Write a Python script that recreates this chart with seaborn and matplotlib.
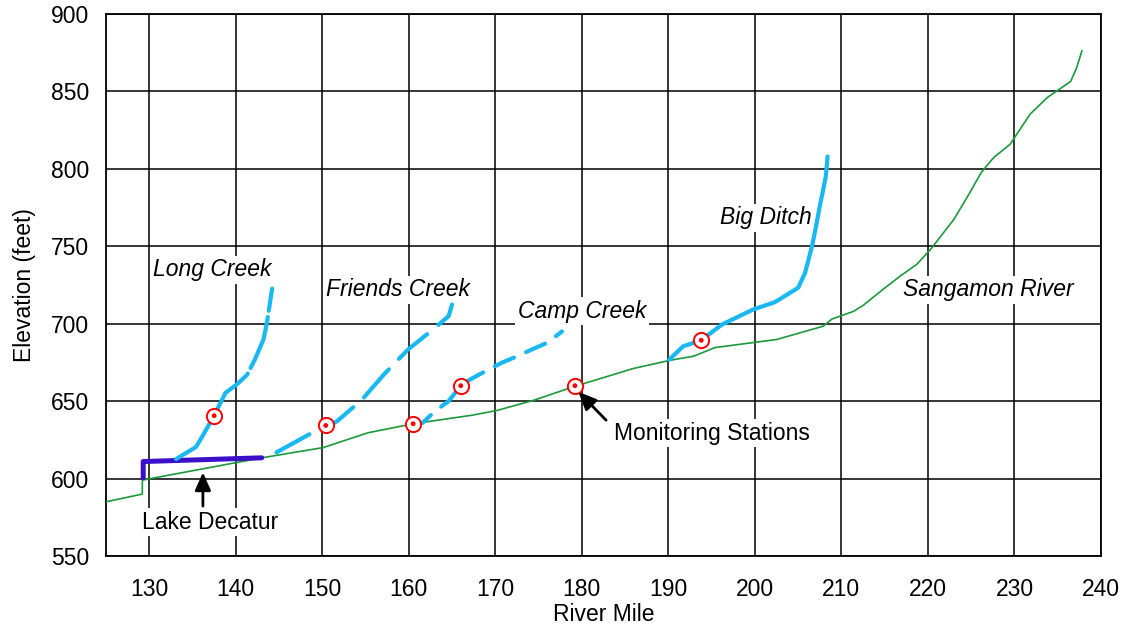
import matplotlib
matplotlib.use("Agg")
import matplotlib.pyplot as plt
import seaborn as sns
import pandas as pd

sns.set_theme(style="white")
plt.rcParams['font.family'] = ['Liberation Sans', 'DejaVu Sans']
plt.rcParams['text.color'] = 'black'
plt.rcParams['axes.labelcolor'] = 'black'

# Sangamon River main stem
sang_x = [125.0, 129.2, 129.2, 143.0, 150.1, 155.3, 160.5, 167.4, 170.2, 174.4, 179.2, 185.9,
          190.2, 192.9, 195.4, 202.5, 207.9, 208.9, 211.4, 212.5, 214.9, 216.8, 218.7, 220.3,
          223.0, 224.5, 226.2, 227.6, 229.5, 231.8, 233.8, 236.5, 237.2, 237.8]
sang_y = [585.0, 590.0, 599.0, 613.4, 620.0, 629.6, 635.4, 641.0, 644.0, 650.5, 659.6, 671.0,
          676.4, 679.0, 684.6, 689.8, 698.4, 703.0, 708.0, 711.8, 722.6, 730.8, 738.3, 748.0,
          767.4, 781.4, 798.0, 807.3, 815.9, 835.3, 846.1, 856.5, 865.5, 876.3]

# Lake Decatur
lake_x = [129.3, 129.3, 143.0]
lake_y = [600.5, 611.0, 613.4]

# Tributaries
long_x = [133.1, 135.4, 135.9, 137.5, 138.8, 140.1, 141.3, 142.2, 143.2, 143.6, 144.2]
long_y = [612.6, 620.4, 625.0, 640.6, 655.3, 660.7, 667.0, 676.8, 689.8, 700.6, 722.6]

friends_x = [144.7, 148.4, 151.7, 154.6, 157.1, 159.9, 162.8, 164.6, 165.0]
friends_y = [616.9, 628.3, 637.0, 651.0, 667.1, 683.3, 696.3, 704.9, 712.4]

camp_x = [160.5, 161.6, 163.0, 164.6, 166.0, 167.1, 169.2, 170.7, 172.1, 174.2, 176.1, 177.7]
camp_y = [635.4, 636.0, 643.4, 650.0, 660.0, 664.0, 670.4, 674.7, 678.0, 683.3, 688.0, 695.0]

bigditch_x = [190.1, 191.7, 193.8, 194.4, 196.2, 199.8, 202.3, 205.0, 205.8, 206.6, 207.0,
              207.5, 207.9, 208.2, 208.4]
bigditch_y = [676.8, 685.4, 689.3, 691.9, 699.5, 709.2, 713.9, 723.2, 732.9, 750.1, 761.0,
              776.0, 786.8, 795.4, 808.0]

# Monitoring stations
station_x = [137.5, 150.4, 160.5, 166.0, 179.2, 193.8]
station_y = [640.6, 634.3, 635.4, 660.0, 660.0, 689.3]

x_ticks = list(range(130, 241, 10))
y_ticks = list(range(550, 901, 50))

fig = plt.figure(figsize=(11.25, 6.27), dpi=100)
ax = fig.add_axes([106 / 1125, 1 - 556 / 627, (1101 - 106) / 1125, (556 - 14) / 627])

cyan = "#18B8F2"
green = "#1A9A3A"
purple = "#3A10C8"
FS = 16.5

sns.lineplot(x=sang_x, y=sang_y, sort=False, estimator=None, ax=ax, color=green, lw=1.2, zorder=4)
sns.lineplot(x=lake_x, y=lake_y, sort=False, estimator=None, ax=ax, color=purple, lw=3.6,
             zorder=5, solid_capstyle='round')

line_kw = dict(sort=False, estimator=None, ax=ax, color=cyan, lw=3.0, zorder=5)
l1 = sns.lineplot(x=long_x, y=long_y, **line_kw).lines[-1]
l1.set_dashes((13, 1.5)); l1.set_dash_capstyle('round')
l2 = sns.lineplot(x=friends_x, y=friends_y, **line_kw).lines[-1]
l2.set_dashes((9, 3.5)); l2.set_dash_capstyle('round')
l3 = sns.lineplot(x=camp_x, y=camp_y, **line_kw).lines[-1]
l3.set_dashes((5, 3.2)); l3.set_dash_capstyle('round')
l4 = sns.lineplot(x=bigditch_x, y=bigditch_y, **line_kw).lines[-1]
l4.set_solid_capstyle('round')

sns.scatterplot(x=station_x, y=station_y, ax=ax, s=120, facecolor="white", edgecolor="red",
                linewidth=1.4, zorder=7)
sns.scatterplot(x=station_x, y=station_y, ax=ax, s=12, color="red", edgecolor="none", zorder=8)

ax.set_xlim(125, 240)
ax.set_ylim(550, 900)
ax.set_xticks(x_ticks)
ax.set_yticks(y_ticks)
ax.tick_params(axis="x", length=0, labelsize=FS, pad=16, colors="black")
ax.tick_params(axis="y", length=0, labelsize=FS, pad=12, colors="black")
ax.grid(True, color="black", lw=1.1, zorder=1)
ax.set_axisbelow(True)
for s in ax.spines.values():
    s.set_color("black"); s.set_linewidth(1.3)

ax.set_xlabel("River Mile", fontsize=FS, labelpad=1)
ax.set_ylabel("Elevation (feet)", fontsize=FS, labelpad=11)

box = dict(facecolor="white", edgecolor="none", pad=2)
lab_kw = dict(fontsize=FS, style="italic", ha="center", va="center", bbox=box, zorder=3)
ax.text(137.3, 734.7, "Long Creek", **lab_kw)
ax.text(158.8, 721.8, "Friends Creek", **lab_kw)
ax.text(180.0, 708.2, "Camp Creek", **lab_kw)
ax.text(201.3, 768.3, "Big Ditch", **lab_kw)
ax.text(227.0, 721.8, "Sangamon River", **lab_kw)

arrow = dict(arrowstyle="-|>,head_length=0.9,head_width=0.4", color="black", lw=2,
             shrinkA=0, shrinkB=0)
ax.annotate("", xy=(179.6, 656.0), xytext=(182.8, 637.7), arrowprops=arrow, zorder=9)
ax.text(183.7, 629.3, "Monitoring Stations", fontsize=FS, ha="left", va="center", bbox=box, zorder=3)
ax.annotate("", xy=(136.2, 604.0), xytext=(136.2, 582.2), arrowprops=arrow, zorder=9)
ax.text(137.0, 571.8, "Lake Decatur", fontsize=FS, ha="center", va="center", bbox=box, zorder=3)

fig.savefig("out.png", dpi=100)
